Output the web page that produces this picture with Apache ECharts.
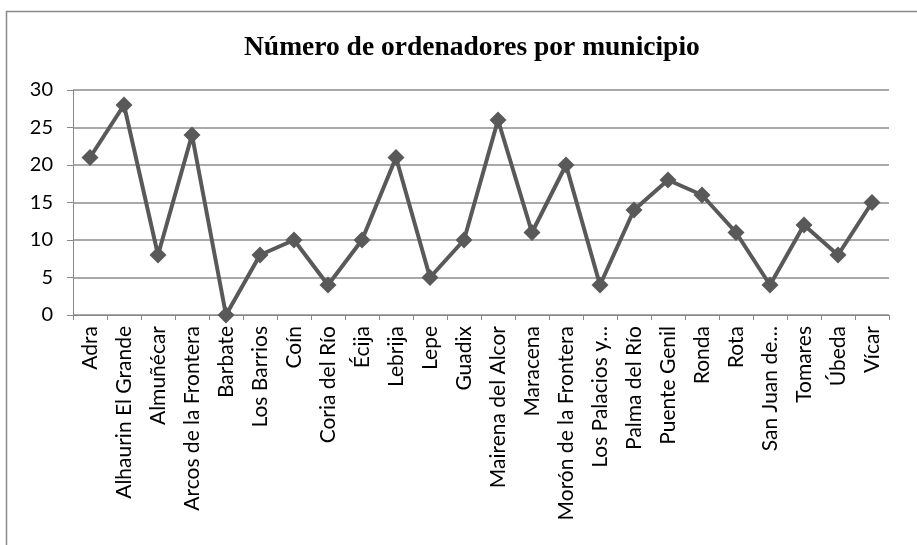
<!DOCTYPE html>
<html>
<head>
<meta charset="utf-8">
<script src="https://cdn.jsdelivr.net/npm/echarts@6/dist/echarts.min.js"></script>
<style>
html,body{margin:0;padding:0;background:#fff;}
#chart{width:917px;height:545px;}
</style>
</head>
<body>
<div id="chart"></div>
<script>
/* número de ordenadores por municipio */
var municipios = ['Adra', 'Alhaurin El Grande', 'Almuñécar', 'Arcos de la Frontera', 'Barbate',
	'Los Barrios', 'Coín', 'Coria del Río', 'Écija', 'Lebrija', 'Lepe', 'Guadix',
	'Mairena del Alcor', 'Maracena', 'Morón de la Frontera', 'Los Palacios y…', 'Palma del Río',
	'Puente Genil', 'Ronda', 'Rota', 'San Juan de…', 'Tomares', 'Úbeda', 'Vícar'];
var ordenadores = [21, 28, 8, 24, 0, 8, 10, 4, 10, 21, 5, 10, 26, 11, 20, 4, 14, 18, 16, 11, 4, 12, 8, 15];
var yTicks = [0, 5, 10, 15, 20, 25, 30];

var chart = echarts.init(document.getElementById('chart'));
var option = {
	backgroundColor: '#fff',
	animation: false,
	title: {
		text: 'Número de ordenadores por municipio',
		left: 239,
		top: 29,
		textStyle: {
			fontFamily: 'Liberation Serif',
			fontWeight: 'bold',
			fontSize: 27.5,
			color: '#000'
		}
	},
	graphic: [{
		type: 'rect',
		shape: {x: 6.5, y: 11.5, width: 950, height: 600},
		style: {fill: null, stroke: '#888', lineWidth: 1.5},
		silent: true
	}],
	grid: {
		left: 73,
		right: 28,
		top: 90,
		bottom: 230
	},
	xAxis: {
		type: 'category',
		data: municipios,
		boundaryGap: true,
		axisLine: {lineStyle: {color: '#888', width: 1}},
		axisTick: {show: true, length: 5, lineStyle: {color: '#888'}},
		axisLabel: {
			rotate: 90,
			interval: 0,
			margin: 11,
			fontFamily: 'Lato',
			fontSize: 21,
			color: '#000'
		}
	},
	yAxis: {
		type: 'value',
		min: yTicks[0],
		max: yTicks[yTicks.length - 1],
		interval: 5,
		axisLine: {show: true, lineStyle: {color: '#888', width: 1}},
		axisTick: {show: true, inside: false, length: 6, lineStyle: {color: '#888'}},
		axisLabel: {
			margin: 20,
			fontFamily: 'Lato',
			fontSize: 20,
			color: '#000'
		},
		splitLine: {show: true, lineStyle: {color: '#8c8c8c', width: 1.5}}
	},
	series: [{
		name: 'Ordenadores',
		type: 'line',
		data: ordenadores,
		symbol: 'diamond',
		symbolSize: 17,
		lineStyle: {color: '#595959', width: 4},
		itemStyle: {color: '#595959'}
	}]
};
chart.setOption(option);
</script>
</body>
</html>
